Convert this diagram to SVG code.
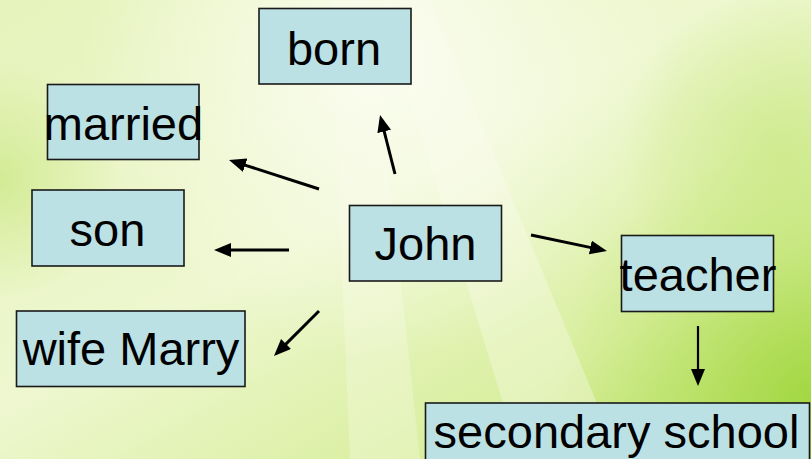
<svg xmlns="http://www.w3.org/2000/svg" width="811" height="459" viewBox="0 0 811 459">
<style>
.box{fill:#bce1e4;stroke:#1a1a1a;stroke-width:1.6}
.lbl{font-family:"Liberation Sans",Arial,sans-serif;font-size:47px;fill:#000;text-anchor:middle}
.con{stroke:#000;stroke-width:3;fill:none}
</style>
<defs>
<linearGradient id="bg" x1="0" y1="0" x2="1" y2="1">
<stop offset="0" stop-color="#e6f3bb"/>
<stop offset="0.45" stop-color="#eef7cf"/>
<stop offset="0.75" stop-color="#d9efa0"/>
<stop offset="1" stop-color="#b5df5c"/>
</linearGradient>
<radialGradient id="gr" cx="811" cy="400" r="260" gradientUnits="userSpaceOnUse">
<stop offset="0" stop-color="#9fd63d" stop-opacity="0.9"/>
<stop offset="1" stop-color="#b8e060" stop-opacity="0"/>
</radialGradient>
<radialGradient id="gm" cx="780" cy="150" r="160" gradientUnits="userSpaceOnUse">
<stop offset="0" stop-color="#c4e67a" stop-opacity="0.6"/>
<stop offset="1" stop-color="#c4e67a" stop-opacity="0"/>
</radialGradient>
<radialGradient id="wl" cx="380" cy="60" r="300" gradientUnits="userSpaceOnUse">
<stop offset="0" stop-color="#fbfdf2" stop-opacity="0.95"/>
<stop offset="1" stop-color="#fbfdf2" stop-opacity="0"/>
</radialGradient>
<radialGradient id="gl" cx="0" cy="180" r="120" gradientUnits="userSpaceOnUse">
<stop offset="0" stop-color="#cde98a" stop-opacity="0.8"/>
<stop offset="1" stop-color="#cde98a" stop-opacity="0"/>
</radialGradient>
<marker id="ah" markerUnits="userSpaceOnUse" markerWidth="18" markerHeight="15" refX="2" refY="7" orient="auto">
<path d="M0,0 L17,7 L0,14 z" fill="#000"/>
</marker>
</defs>
<rect width="811" height="459" fill="url(#bg)"/>
<rect width="811" height="459" fill="url(#gr)"/>
<rect width="811" height="459" fill="url(#gm)"/>
<rect width="811" height="459" fill="url(#gl)"/>
<rect width="811" height="459" fill="url(#wl)"/>
<polygon points="380,0 430,0 620,459 520,459" fill="#fbfdf0" opacity="0.35"/>
<polygon points="330,0 370,0 420,459 350,459" fill="#fbfdf0" opacity="0.3"/>
<g id="connectors">
<line class="con" x1="395" y1="174" x2="383.7" y2="129.5" marker-end="url(#ah)"/>
<line class="con" x1="319" y1="189" x2="243.3" y2="164.6" marker-end="url(#ah)"/>
<line class="con" x1="289" y1="250" x2="229" y2="250" marker-end="url(#ah)"/>
<line class="con" x1="319" y1="311" x2="284.6" y2="345.4" marker-end="url(#ah)"/>
<line class="con" x1="531" y1="235" x2="592.3" y2="247.9" marker-end="url(#ah)"/>
<line class="con" x1="698" y1="326" x2="698" y2="371" marker-end="url(#ah)" style="stroke-width:2.2"/>
</g>
<g id="born"><rect class="box" x="259" y="8.5" width="152" height="75.5"/><text class="lbl" x="334" y="65">born</text></g>
<g id="married"><rect class="box" x="47.5" y="84.5" width="151.5" height="75"/><text class="lbl" x="123.5" y="139.5">married</text></g>
<g id="son"><rect class="box" x="32" y="190" width="152" height="76"/><text class="lbl" x="107.5" y="245.5">son</text></g>
<g id="john"><rect class="box" x="349.5" y="205.5" width="152" height="75.5"/><text class="lbl" x="425.5" y="260">John</text></g>
<g id="teacher"><rect class="box" x="621.5" y="235.5" width="152" height="76"/><text class="lbl" x="698" y="290.5">teacher</text></g>
<g id="wife"><rect class="box" x="16.5" y="311" width="228.5" height="75.5"/><text class="lbl" x="131" y="365">wife Marry</text></g>
<g id="school"><rect class="box" x="425.5" y="403" width="384" height="80"/><text class="lbl" x="616.5" y="448">secondary school</text></g>
</svg>
